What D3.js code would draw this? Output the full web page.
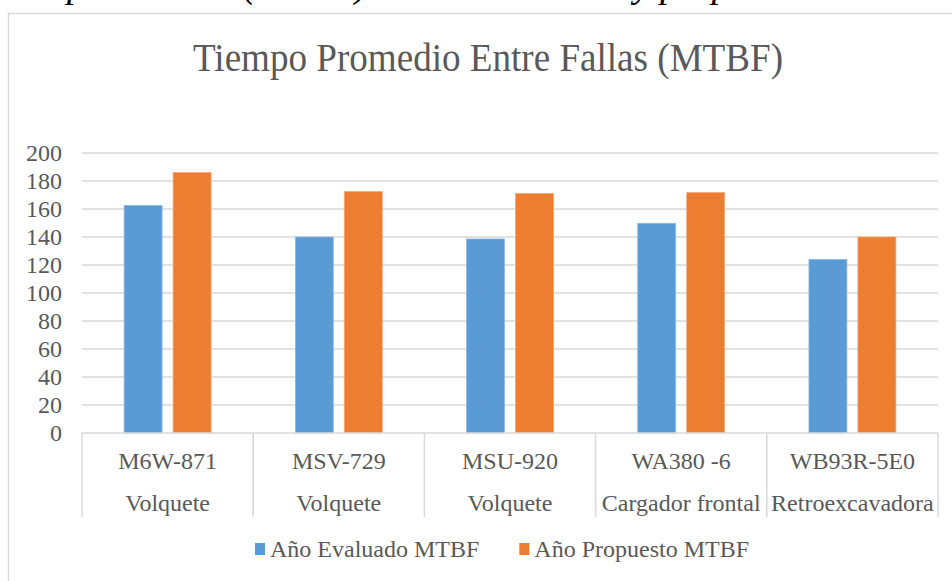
<!DOCTYPE html>
<html>
<head>
<meta charset="utf-8">
<script src="https://cdn.jsdelivr.net/npm/d3@7"></script>
<style>
  body { margin: 0; background: #fff; }
  text { font-family: "Liberation Serif", "Times New Roman", Times, serif; fill: #595959; }
</style>
</head>
<body>
<div id="chart"></div>
<script>
// data
var equipos = ["M6W-871", "MSV-729", "MSU-920", "WA380 -6", "WB93R-5E0"];
var tipos = ["Volquete", "Volquete", "Volquete", "Cargador frontal", "Retroexcavadora"];
var series = ["Año Evaluado MTBF", "Año Propuesto MTBF"];
var evaluado = [162.6, 140, 138.6, 149.8, 124];
var propuesto = [186, 172.4, 171, 171.7, 140];
var yTicks = [0, 20, 40, 60, 80, 100, 120, 140, 160, 180, 200];
var colors = ["#5b9bd5", "#ed7d31"];
var edges = ["#8cb8e2", "#f3a470"];

var svgWidth = 952;
var svgHeight = 581;

var margin = { top: 153, bottom: 148, left: 82, right: 14 };
var width = svgWidth - margin.left - margin.right;
var height = svgHeight - margin.top - margin.bottom;

var svg = d3.select("#chart")
    .append("svg")
    .attr("width", svgWidth)
    .attr("height", svgHeight);

// caption above the chart, cut off by the top edge as in the source
svg.append("text")
    .attr("y", -3)
    .style("font-size", "38px")
    .style("font-style", "italic")
    .style("fill", "#000")
    .selectAll("tspan")
    .data([["Tiempo medio", -7], ["(MTBF)", 243], ["del año evaluado", 360], ["y propuesto", 634]])
    .enter()
    .append("tspan")
    .attr("x", d => d[1])
    .text(d => d[0]);

// chart frame
svg.append("rect")
    .attr("x", 8.5)
    .attr("y", 13.5)
    .attr("width", 1000)
    .attr("height", 700)
    .attr("fill", "none")
    .attr("stroke", "#d9d9d9")
    .attr("stroke-width", 1.5);

// title
svg.append("text")
    .attr("x", 488)
    .attr("y", 71)
    .attr("text-anchor", "middle")
    .attr("textLength", 590)
    .attr("lengthAdjust", "spacingAndGlyphs")
    .style("font-size", "39px")
    .text("Tiempo Promedio Entre Fallas (MTBF)");

var chartGroup = svg.append("g")
    .attr("transform", `translate(${margin.left}, ${margin.top})`);

var x0 = d3.scaleBand()
    .domain(equipos)
    .range([0, width]);

var x1 = d3.scaleBand()
    .domain(series)
    .range([0, x0.bandwidth()])
    .paddingInner(0.225)
    .paddingOuter(0.86);

var y = d3.scaleLinear()
    .domain([0, 200])
    .range([height, 0]);

// gridlines
chartGroup.append("g")
    .selectAll("line")
    .data(yTicks.slice(1))
    .enter()
    .append("line")
    .attr("x1", 0)
    .attr("x2", width)
    .attr("y1", d => y(d))
    .attr("y2", d => y(d))
    .attr("stroke", "#d9d9d9")
    .attr("stroke-width", 1.5);

// y axis labels
var leftAxis = d3.axisLeft(y).tickValues(yTicks).tickSize(0).tickPadding(20);
chartGroup.append("g")
    .call(leftAxis)
    .attr("font-family", null)
    .call(g => g.select(".domain").remove())
    .selectAll("text")
    .style("font-size", "24px")
    .attr("fill", "#595959");

// bars
var rows = equipos.map((e, i) => ({ equipo: e, values: [evaluado[i], propuesto[i]] }));

var groups = chartGroup.selectAll("g.grupo")
    .data(rows)
    .enter()
    .append("g")
    .classed("grupo", true)
    .attr("transform", d => `translate(${x0(d.equipo)}, 0)`);

groups.selectAll("rect")
    .data(d => d.values.map((v, k) => ({ key: series[k], k: k, value: v })))
    .enter()
    .append("rect")
    .attr("x", d => x1(d.key))
    .attr("y", d => y(d.value))
    .attr("width", x1.bandwidth())
    .attr("height", d => height - y(d.value))
    .attr("fill", d => colors[d.k])
    .attr("stroke", d => edges[d.k])
    .attr("stroke-width", 0.75);

// x axis line and category dividers
chartGroup.append("line")
    .attr("x1", 0)
    .attr("x2", width)
    .attr("y1", height)
    .attr("y2", height)
    .attr("stroke", "#d9d9d9")
    .attr("stroke-width", 1.5);

var bounds = equipos.map(e => x0(e)).concat([width]);
chartGroup.selectAll("line.divider")
    .data(bounds)
    .enter()
    .append("line")
    .classed("divider", true)
    .attr("x1", d => d)
    .attr("x2", d => d)
    .attr("y1", height)
    .attr("y2", height + 84)
    .attr("stroke", "#d9d9d9")
    .attr("stroke-width", 1.5);

// two rows of category labels
chartGroup.selectAll("text.equipo")
    .data(equipos)
    .enter()
    .append("text")
    .classed("equipo", true)
    .attr("x", d => x0(d) + x0.bandwidth() / 2)
    .attr("y", height + 36)
    .attr("text-anchor", "middle")
    .style("font-size", "24px")
    .text(d => d);

chartGroup.selectAll("text.tipo")
    .data(tipos)
    .enter()
    .append("text")
    .classed("tipo", true)
    .attr("x", (d, i) => x0(equipos[i]) + x0.bandwidth() / 2)
    .attr("y", height + 78)
    .attr("text-anchor", "middle")
    .style("font-size", "24px")
    .text(d => d);

// legend
var legend = svg.append("g");
var items = legend.selectAll("g")
    .data(series)
    .enter()
    .append("g");

items.append("rect")
    .attr("y", 543)
    .attr("width", 10)
    .attr("height", 12)
    .attr("fill", (d, i) => colors[i]);

items.append("text")
    .attr("x", 15)
    .attr("y", 557)
    .style("font-size", "24px")
    .text(d => d);

var offset = 0;
var spacing = 40;
items.each(function() {
    var item = d3.select(this);
    item.attr("transform", `translate(${offset}, 0)`);
    offset += 15 + item.select("text").node().getComputedTextLength() + spacing;
});
offset -= spacing;
legend.attr("transform", `translate(${502 - offset / 2}, 0)`);
</script>
</body>
</html>
